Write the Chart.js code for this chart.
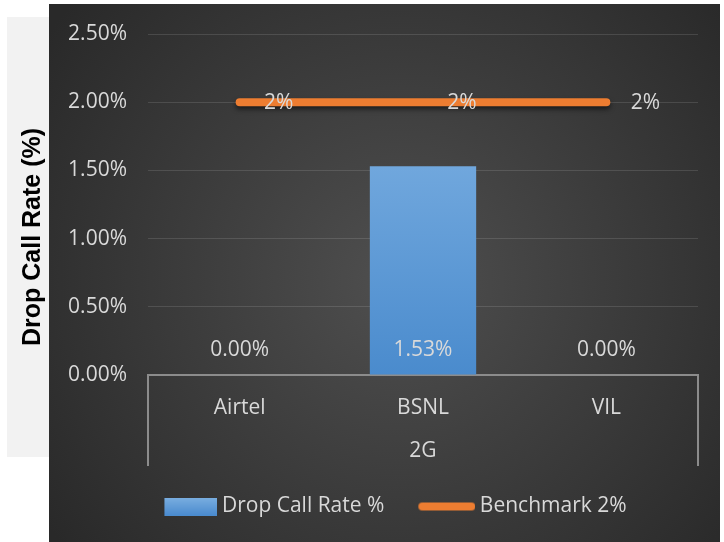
<!DOCTYPE html>
<html>
<head>
<meta charset="utf-8">
<script src="https://cdn.jsdelivr.net/npm/chart.js@4/dist/chart.umd.min.js"></script>
<style>
  body { margin: 0; background: #fff; }
  #wrap { width: 724px; height: 542px; }
</style>
</head>
<body>
<div id="wrap"><canvas id="chart" width="724" height="542"></canvas></div>
<script>
const categories = ["Airtel", "BSNL", "VIL"];
const groupLabel = "2G";
const dropCallRate = [0, 1.53, 0];
const benchmark = [2, 2, 2];
const yAxisTitle = "Drop Call Rate (%)";

const LABEL_COLOR = "#d9d9d9";
const ORANGE = "#ed7d31";

Chart.defaults.font.family = "'Open Sans', 'Noto Sans', sans-serif";
Chart.defaults.font.size = 21;
Chart.defaults.font.lineHeight = 1.2;
Chart.defaults.color = LABEL_COLOR;

// legend markers (drawn to the right of a transparent margin)
const makeBarMarker = () => {
    const c = document.createElement("canvas");
    c.width = 87;
    c.height = 18;
    const g = c.getContext("2d");
    const grad = g.createLinearGradient(0, 0, 0, 18);
    grad.addColorStop(0, "#7aaee0");
    grad.addColorStop(1, "#4a8bcf");
    g.fillStyle = grad;
    g.fillRect(34, 0, 53, 18);
    return c;
};
const makeLineMarker = () => {
    const c = document.createElement("canvas");
    c.width = 87;
    c.height = 12;
    const g = c.getContext("2d");
    g.strokeStyle = ORANGE;
    g.lineWidth = 8;
    g.lineCap = "round";
    g.beginPath();
    g.moveTo(34, 6);
    g.lineTo(83, 6);
    g.stroke();
    return c;
};
const barMarker = makeBarMarker();
const lineMarker = makeLineMarker();

const barGradient = (context) => {
    const { chart } = context;
    const area = chart.chartArea;
    if (!area) return "#5b9bd5";
    const y = chart.scales.y;
    const grad = chart.ctx.createLinearGradient(0, y.getPixelForValue(1.53), 0, y.getPixelForValue(0));
    grad.addColorStop(0, "#70a7dd");
    grad.addColorStop(1, "#4a8bcd");
    return grad;
};

const decorations = {
    id: "decorations",
    beforeDraw(chart) {
        const ctx = chart.ctx;
        ctx.save();
        ctx.fillStyle = "#ffffff";
        ctx.fillRect(0, 0, chart.width, chart.height);
        ctx.fillStyle = "#f2f2f2";
        ctx.fillRect(7, 17, 42, 440);
        const rg = ctx.createRadialGradient(400, 280, 0, 400, 280, 430);
        rg.addColorStop(0, "#4f4f4f");
        rg.addColorStop(1, "#292929");
        ctx.fillStyle = rg;
        ctx.fillRect(49, 4, 671, 538);
        // y axis title
        ctx.translate(33, 237);
        ctx.rotate(-Math.PI / 2);
        ctx.fillStyle = "#000";
        ctx.font = "bold 25px 'Liberation Sans', Arial, sans-serif";
        ctx.textAlign = "center";
        ctx.textBaseline = "middle";
        ctx.fillText(yAxisTitle, 0, 0);
        ctx.restore();
    },
    afterDraw(chart) {
        const ctx = chart.ctx;
        const x = chart.scales.x;
        ctx.save();
        ctx.strokeStyle = "#8c8c8c";
        ctx.lineWidth = 2;
        ctx.beginPath();
        ctx.moveTo(x.left, x.top);
        ctx.lineTo(x.left, x.top + 91);
        ctx.moveTo(x.right, x.top);
        ctx.lineTo(x.right, x.top + 91);
        ctx.stroke();
        ctx.restore();
    },
    beforeDatasetDraw(chart, args) {
        if (args.index === 1) {
            const ctx = chart.ctx;
            ctx.save();
            ctx.shadowColor = "rgba(0,0,0,0.55)";
            ctx.shadowBlur = 5;
            ctx.shadowOffsetY = 3;
        }
    },
    afterDatasetDraw(chart, args) {
        if (args.index === 1) chart.ctx.restore();
    },
    afterDatasetsDraw(chart) {
        const ctx = chart.ctx;
        const y = chart.scales.y;
        ctx.save();
        ctx.fillStyle = LABEL_COLOR;
        ctx.font = "21px 'Open Sans', 'Noto Sans', sans-serif";
        ctx.textAlign = "center";
        ctx.textBaseline = "middle";
        chart.getDatasetMeta(0).data.forEach((el, i) => {
            ctx.fillText(dropCallRate[i].toFixed(2) + "%", el.x, y.getPixelForValue(0) - 25);
        });
        chart.getDatasetMeta(1).data.forEach((el, i) => {
            ctx.fillText(benchmark[i] + "%", el.x + 39, el.y + 1);
        });
        ctx.restore();
    },
};

new Chart(document.getElementById("chart"), {
    type: "bar",
    data: {
        labels: categories,
        datasets: [
            {
                type: "bar",
                label: "Drop Call Rate %",
                data: dropCallRate,
                backgroundColor: barGradient,
                categoryPercentage: 1,
                barPercentage: 0.58,
                order: 2,
            },
            {
                type: "line",
                label: "Benchmark 2%",
                data: benchmark,
                borderColor: ORANGE,
                backgroundColor: ORANGE,
                borderWidth: 8,
                borderCapStyle: "round",
                pointRadius: 0,
                order: 1,
            },
        ],
    },
    options: {
        responsive: false,
        devicePixelRatio: 1,
        animation: false,
        layout: {
            padding: { left: 65, right: 26, top: 34, bottom: 15 },
        },
        scales: {
            x: {
                grid: { display: false, drawTicks: false },
                border: { display: true, color: "#8c8c8c", width: 2 },
                ticks: { padding: 20, color: LABEL_COLOR },
                title: {
                    display: true,
                    text: groupLabel,
                    color: LABEL_COLOR,
                    padding: { top: 0, bottom: 22 },
                },
                afterFit(scale) {
                    scale.height = 111;
                },
            },
            y: {
                min: 0,
                max: 2.5,
                ticks: {
                    stepSize: 0.5,
                    padding: 21,
                    color: LABEL_COLOR,
                    callback: (v) => v.toFixed(2) + "%",
                },
                grid: { color: "rgba(255,255,255,0.12)", lineWidth: 1, drawTicks: false },
                border: { display: false },
                afterFit(scale) {
                    scale.width = 148 - 65;
                },
            },
        },
        plugins: {
            tooltip: { enabled: false },
            legend: {
                position: "bottom",
                labels: {
                    usePointStyle: true,
                    pointStyleWidth: 75,
                    padding: 10,
                    color: LABEL_COLOR,
                    generateLabels: (chart) =>
                        chart.data.datasets.map((ds, i) => ({
                            text: ds.label,
                            datasetIndex: i,
                            pointStyle: i === 0 ? barMarker : lineMarker,
                            fontColor: LABEL_COLOR,
                            lineWidth: 0,
                            hidden: false,
                        })),
                },
            },
        },
    },
    plugins: [decorations],
});
</script>
</body>
</html>
